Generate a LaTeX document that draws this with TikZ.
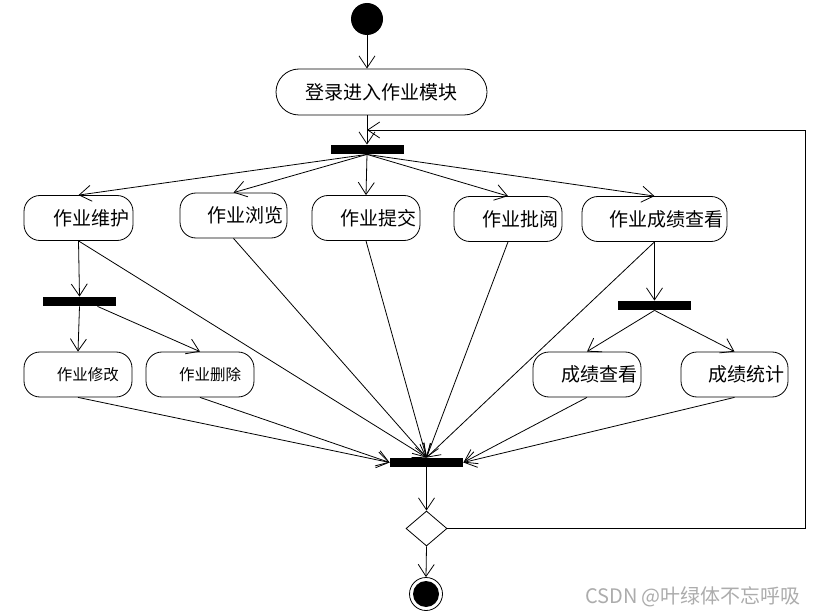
\documentclass[tikz,border=0pt]{standalone}
\usepackage{fontspec}
\usepackage{tikz}
\usetikzlibrary{arrows.meta,shapes.geometric}
\newfontfamily\cjk{Noto Sans CJK SC}
\newcommand{\act}[5]{\node[act, text width=#4] (#1) at (#2,#3) {#5};}
\newcommand{\actsm}[4]{\node[act, actsm] (#1) at (#2,#3) {#4};}
\newcommand{\forkbar}[3]{\node[forkbar] (#1) at (#2,#3) {};}
\begin{document}
\begin{tikzpicture}[x=1pt,y=-1pt,line width=0.8pt,
  act/.style={draw, rounded corners=16pt, minimum height=45pt, inner ysep=0pt,
    inner xsep=4pt, align=right, font=\cjk\fontsize{19}{19}\selectfont},
  actsm/.style={inner xsep=13pt, text width=82pt, font=\cjk\fontsize{15.5}{16}\selectfont},
  forkbar/.style={fill, minimum width=73pt, minimum height=9pt, inner sep=0pt},
  flow/.style={-{Straight Barb[length=12pt,width=16pt]}},
  wmark/.style={text=gray!65, font=\cjk\fontsize{20}{20}\selectfont}]
  \useasboundingbox (0,0) rectangle (815,615);
  \node[circle, fill, minimum size=32pt, inner sep=0pt] (start) at (367,19) {};
  \node[act, rounded corners=23pt, align=center, text width=203pt, minimum height=46pt]
    (login) at (381.5,92) {登录进入作业模块};
  \forkbar{fork1}{367}{149.5}
  \act{weihu}{78.5}{218}{101pt}{作业维护}
  \act{liulan}{233.5}{215.5}{99pt}{作业浏览}
  \act{tijiao}{366}{218}{100pt}{作业提交}
  \act{piyue}{508}{219}{100pt}{作业批阅}
  \act{chengji}{654.5}{219}{137pt}{作业成绩查看}
  \forkbar{fork2}{79.5}{301.5}
  \forkbar{fork3}{654.5}{305.5}
  \actsm{xiugai}{78}{374.5}{作业修改}
  \actsm{shanchu}{200}{374.5}{作业删除}
  \act{cjck}{587}{374.5}{100pt}{成绩查看}
  \act{cjtj}{734.5}{374.5}{99pt}{成绩统计}
  \forkbar{join}{426.5}{462.5}
  \node[diamond, draw, minimum width=41pt, minimum height=35pt, inner sep=0pt] (dec) at (426.5,528.5) {};
  \node[circle, draw, minimum size=33pt, inner sep=0pt] (stop) at (426,594) {};
  \node[circle, fill, minimum size=26pt, inner sep=0pt] (stopin) at (stop.center) {};
  \coordinate (back) at (805,130);
  \node[wmark] (wm) at (693,597) {CSDN @叶绿体不忘呼吸};

  \draw[flow] (start) -- (start |- login.north);
  \draw[flow] (login.south -| fork1) -- (fork1.north);
  \foreach \a in {weihu,liulan,tijiao,piyue,chengji}{
    \draw[flow] (fork1.south) -- (\a.north);
    \draw[flow] (\a.south) -- (join.north);}
  \draw[flow] (weihu.south) -- (fork2.north);
  \draw[flow] (fork2.south) -- (xiugai.north);
  \draw[flow] ([xshift=18pt]fork2.south) -- (shanchu.north);
  \draw[flow] (chengji.south) -- (fork3.north);
  \draw[flow] (fork3.south) -- (cjck.north);
  \draw[flow] (fork3.south) -- (cjtj.north);
  \foreach \a in {xiugai,shanchu}{\draw[flow] (\a.south) -- (join.west);}
  \foreach \a in {cjck,cjtj}{\draw[flow] (\a.south) -- (join.east);}
  \draw[flow] (join.south) -- (dec.north);
  \draw[flow] (dec.south) -- (stop.north);
  \draw[flow] (dec.east) -| (back) -- (back -| fork1);
\end{tikzpicture}
\end{document}
